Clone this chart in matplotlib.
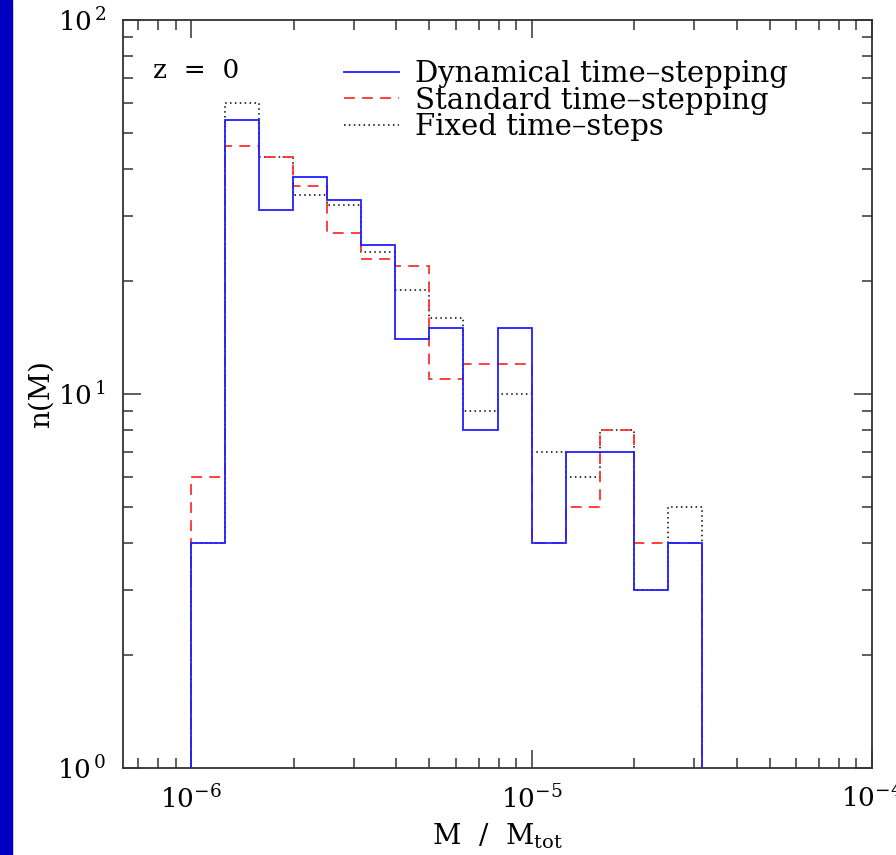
import numpy as np
import matplotlib
matplotlib.use("Agg")
import matplotlib.pyplot as plt
from matplotlib.ticker import LogLocator, NullFormatter, FixedLocator

plt.rcParams['font.family'] = ['DejaVu Serif']
plt.rcParams['mathtext.fontset'] = 'dejavuserif'

# bin edges: 0.1 dex from 1e-6 to 10^-4.5
log_edges = [-6.0, -5.9, -5.8, -5.7, -5.6, -5.5, -5.4, -5.3, -5.2, -5.1,
             -5.0, -4.9, -4.8, -4.7, -4.6, -4.5]

n_dynamical = [4, 54, 31, 38, 33, 25, 14, 15, 8, 15, 4, 7, 7, 3, 4]
n_standard = [6, 46, 43, 36, 27, 23, 22, 11, 12, 12, 4, 5, 8, 4, 4]
n_fixed = [4, 60, 43, 34, 32, 24, 19, 16, 9, 10, 7, 6, 8, 3, 5]

labels = ["Dynamical time\u2013stepping", "Standard time\u2013stepping",
          "Fixed time\u2013steps"]

edges = 10.0 ** np.array(log_edges)

fig = plt.figure(figsize=(8.96, 8.55), dpi=100)
# blue strip on the left edge
fig.patches.append(plt.Rectangle((0, 0), 12 / 896, 1, transform=fig.transFigure,
                                 color='#0000c0', zorder=0))

ax = fig.add_axes([123 / 896, 1 - 768 / 855, 749 / 896, 748 / 855])

ax.stairs(n_fixed, edges, baseline=0.5, color='black', ls=(0, (1, 2.2)), lw=1.1,
          label=labels[2], zorder=2)
ax.stairs(n_standard, edges, baseline=0.5, color='#ff3030', ls=(0, (6, 4)), lw=1.3,
          label=labels[1], zorder=3)
ax.stairs(n_dynamical, edges, baseline=0.5, color='#2020ff', lw=1.3,
          label=labels[0], zorder=4)

ax.set_xscale('log')
ax.set_yscale('log')
ax.set_xlim(10 ** -6.2, 1e-4)
ax.set_ylim(1, 100)

ax.xaxis.set_major_locator(FixedLocator([1e-6, 1e-5, 1e-4]))
ax.set_xticklabels([r'$10^{-6}$', r'$10^{-5}$', r'$10^{-4}$'])
ax.xaxis.set_minor_locator(LogLocator(base=10, subs=np.arange(2, 10)))
ax.xaxis.set_minor_formatter(NullFormatter())

ax.yaxis.set_major_locator(FixedLocator([1, 10, 100]))
ax.set_yticklabels([r'$10^{\,0}$', r'$10^{\,1}$', r'$10^{\,2}$'])
ax.yaxis.set_minor_locator(LogLocator(base=10, subs=np.arange(2, 10)))
ax.yaxis.set_minor_formatter(NullFormatter())

ax.tick_params(which='both', direction='in', top=True, right=True,
               color='#333333', labelsize=19)
ax.tick_params(which='major', length=13, width=1.1, pad=12)
ax.tick_params(which='minor', length=7, width=1.1)
for s in ax.spines.values():
    s.set_color('#333333')
    s.set_linewidth(1.3)

ax.set_xlabel(r'M  /  M$_{\rm tot}$', fontsize=20, labelpad=6)
ax.set_ylabel('n(M)', fontsize=20, labelpad=2)

ax.text(0.04, 0.933, 'z  =  0', transform=ax.transAxes, fontsize=19,
        va='center', ha='left')

h, l = ax.get_legend_handles_labels()
ax.legend(h[::-1], l[::-1], loc='upper left', bbox_to_anchor=(0.275, 0.966),
          frameon=False, fontsize=21, handlelength=1.9, handletextpad=0.55,
          labelspacing=-0.05, borderpad=0)

fig.savefig('out.png', dpi=100)
